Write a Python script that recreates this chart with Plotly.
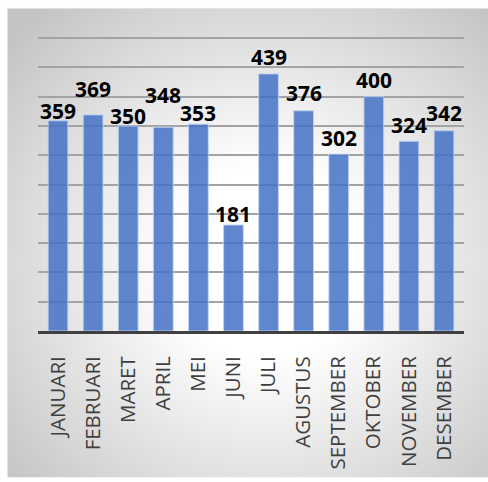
import base64
import plotly.graph_objects as go

months = ["JANUARI", "FEBRUARI", "MARET", "APRIL", "MEI", "JUNI", "JULI",
          "AGUSTUS", "SEPTEMBER", "OKTOBER", "NOVEMBER", "DESEMBER"]
values = [359, 369, 350, 348, 353, 181, 439, 376, 302, 400, 324, 342]
y_ticks = [0, 50, 100, 150, 200, 250, 300, 350, 400, 450, 500]
# pixel lift of each data label above its bar (labels were hand-staggered)
label_lift = [-6, 10, -6, 16, -5, -5, 1, 2, 0, 1, 0, 2]

W, H = 488, 482
ML, MR, MT, MB = 38, 24, 36.5, 148
PW, PH = W - ML - MR, H - MT - MB

svg = f'''<svg xmlns="http://www.w3.org/2000/svg" width="{W}" height="{H}" viewBox="0 0 {W} {H}">
<defs><radialGradient id="g" gradientUnits="userSpaceOnUse" cx="265" cy="265" r="340">
<stop offset="0" stop-color="#ffffff"/><stop offset="0.28" stop-color="#ffffff"/>
<stop offset="1" stop-color="#c4c4c4"/></radialGradient></defs>
<rect x="0" y="0" width="{W}" height="{H}" fill="#ffffff"/>
<rect x="7.5" y="7.5" width="{W}" height="{H}" fill="url(#g)" stroke="#e2e2e2" stroke-width="1"/>
</svg>'''
src = "data:image/svg+xml;base64," + base64.b64encode(svg.encode()).decode()

fig = go.Figure(go.Bar(
    x=months, y=values,
    marker=dict(color="rgba(68,114,196,0.85)",
                line=dict(color="rgba(190,210,245,0.9)", width=1)),
    cliponaxis=False,
))

annotations = [
    dict(x=m, y=v, text=str(v), showarrow=False, xanchor="center",
         yanchor="bottom", yshift=s,
         font=dict(family="Open Sans", size=21, color="#000000", weight="bold"))
    for m, v, s in zip(months, values, label_lift)
]

fig.update_layout(
    width=W, height=H,
    margin=dict(l=ML, r=MR, t=MT, b=MB, pad=0),
    paper_bgcolor="#ffffff", plot_bgcolor="rgba(0,0,0,0)",
    bargap=0.437, showlegend=False,
    annotations=annotations,
    images=[dict(source=src, xref="paper", yref="paper",
                 x=-ML / PW, y=1 + MT / PH, sizex=W / PW, sizey=H / PH,
                 xanchor="left", yanchor="top", sizing="stretch", layer="below")],
)
fig.update_yaxes(range=[0, 502], tickvals=y_ticks, showticklabels=False,
                 showgrid=True, gridcolor="#a3a3a3", gridwidth=1.5,
                 zeroline=False, showline=False)
fig.update_xaxes(showline=True, linecolor="#404040", linewidth=3,
                 tickangle=-90, ticks="outside", ticklen=14,
                 tickcolor="rgba(0,0,0,0)",
                 tickfont=dict(family="Open Sans", size=20.5, color="#404040"))

fig.write_html("out.html")
